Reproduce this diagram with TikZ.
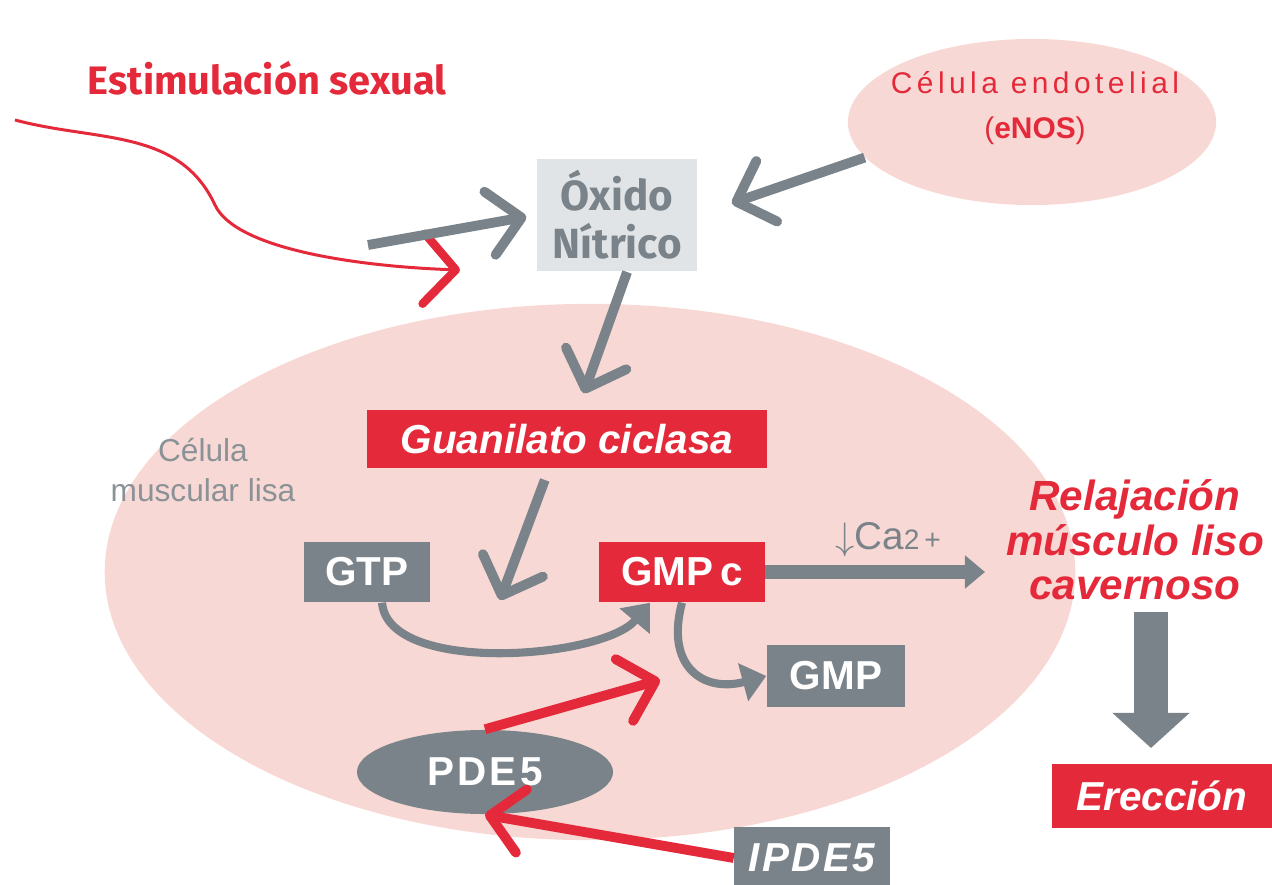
\documentclass[tikz,border=0pt]{standalone}
\usepackage{fontspec}
\setmainfont{Liberation Sans}
\newfontfamily\firafont{Fira Sans}
\usetikzlibrary{positioning}
\usetikzlibrary{shapes.geometric}
\usetikzlibrary{calc}
\usetikzlibrary{arrows.meta}
\definecolor{vred}{HTML}{E42A3A}
\definecolor{vgray}{HTML}{7A8389}
\definecolor{vlight}{HTML}{E1E4E6}
\definecolor{vpink}{HTML}{F8D8D4}
\definecolor{vtext}{HTML}{8B9297}
\tikzset{
    cell/.style = {ellipse, fill=vpink, inner sep=0pt},
    redbox/.style = {rectangle, fill=vred, text=white, inner sep=0pt},
    graybox/.style = {rectangle, fill=vgray, text=white, inner sep=0pt},
    boxfont/.style = {font=\fontsize{11.5}{13}\selectfont\bfseries},
    boxitfont/.style = {font=\fontsize{11.5}{13}\selectfont\bfseries\itshape},
    grayarrow/.style = {draw=vgray, line width=2.8pt, -{Straight Barb[length=3.2mm,width=6.4mm,round]}},
    redarrow/.style = {draw=vred, line width=2.8pt, -{Straight Barb[length=3.2mm,width=6.4mm,round]}},
    bentarrow/.style = {draw=vgray, line width=2.3pt, -{Triangle[length=2.4mm,width=3.8mm]}}}
\begin{document}
\begin{tikzpicture}[x=0.01cm, y=0.01cm]
    \useasboundingbox (0,0) rectangle (1272,884);
    % the two cells
    \node[cell, minimum width=9.7cm, minimum height=5.36cm] (muscle) at (590,312) {};
    \node[cell, minimum width=3.68cm, minimum height=1.66cm] (endo) at (1032,762) {};
    \path (1035,776) node[text=vred, align=center, font=\fontsize{8.5}{12.8}\selectfont] (endotext) {{\addfontfeature{LetterSpace=15}Célula endotelial}\\(\textbf{eNOS})}
        (267,806) node[text=vred, font=\firafont\fontsize{11.3}{13}\selectfont\bfseries] (stim) {Estimulación sexual}
        (617,669) node[rectangle, fill=vlight, text=vgray, minimum width=1.6cm, minimum height=1.1cm, align=center, font=\firafont\fontsize{12}{13.7}\selectfont\bfseries] (oxido) {Óxido\\Nítrico}
        (567,445) node[redbox, boxitfont, minimum width=4cm, minimum height=0.58cm] (guan) {Guanilato ciclasa}
        (203,414) node[text=vtext, align=center, font=\fontsize{9}{11.4}\selectfont] (musclelabel) {Célula\\muscular lisa}
        (367,312) node[graybox, boxfont, minimum width=1.25cm, minimum height=0.6cm] (gtp) {GTP}
        (682,312) node[redbox, boxfont, minimum width=1.65cm, minimum height=0.6cm] (gmpc) {GMP\,c}
        (836,208) node[graybox, boxfont, minimum width=1.38cm, minimum height=0.62cm] (gmp) {GMP}
        (888,344) node[text=vgray, font=\fontsize{11}{13}\selectfont] (ca) {$\downarrow$Ca{\fontsize{8}{9}\selectfont 2\,+}}
        (1135,344) node[text=vred, align=center, font=\fontsize{12}{12.6}\selectfont\bfseries\itshape] (relax) {Relajación\\músculo liso\\cavernoso}
        (1162,88) node[redbox, boxitfont, minimum width=2.2cm, minimum height=0.63cm] (erec) {Erección}
        (485,112) node[ellipse, fill=vgray, text=white, inner sep=0pt, minimum width=2.56cm, minimum height=0.84cm, boxfont] (pde) {\addfontfeature{LetterSpace=8}PDE5}
        (812,26) node[graybox, boxitfont, minimum width=1.55cm, minimum height=0.62cm] (ipde) {\addfontfeature{LetterSpace=6}IPDE5};
    % free ends
    \coordinate (stimstart) at (15,764);
    \coordinate (stimbend) at (215,679);
    \coordinate (stimend) at (460,614);
    \coordinate (nostart) at (368,639);
    \coordinate (react) at (500,284);
    \coordinate (hydro) at (660,204);
    \coordinate (caend) at (985,312);
    \coordinate (blocktip) at (1151,136);
    \draw[draw=vred, line width=0.85pt, -{Straight Barb[length=3.2mm,width=7mm,line width=2.4pt,round]}]
        (stimstart) to [out=-15,in=115] (stimbend) to [out=-65,in=178,out looseness=0.5] (stimend);
    \draw[grayarrow, shorten >=1mm] (nostart) -- (oxido.west);
    \draw[grayarrow, shorten >=3.6mm] (endo.192) -- (oxido.east);
    \draw[grayarrow, shorten >=1.7mm] (oxido.-80) -- ($(guan.north)+(11,0)$);
    \draw[grayarrow, shorten <=1.2mm] ($(guan.south)+(-18,0)$) -- (react);
    \draw[bentarrow] ($(gtp.south)+(15,0)$) to [out=-85,in=-130,looseness=0.7] ($(gmpc.south)+(-32,0)$);
    \draw[bentarrow] (gmpc.south) to [out=-105,in=195,looseness=1.5] (gmp.west);
    \draw[draw=vgray, line width=4pt, -{Triangle[length=2mm,width=3.2mm]}] (gmpc.east) -- (caend);
    \draw[draw=vgray, line width=0.33cm, -{Triangle[length=0.35cm,width=0.75cm]}] (blocktip |- relax.south) -- (blocktip);
    \draw[redarrow] (pde.north) -- (hydro);
    \draw[redarrow] (ipde.west) -- (pde.south);
\end{tikzpicture}
\end{document}
